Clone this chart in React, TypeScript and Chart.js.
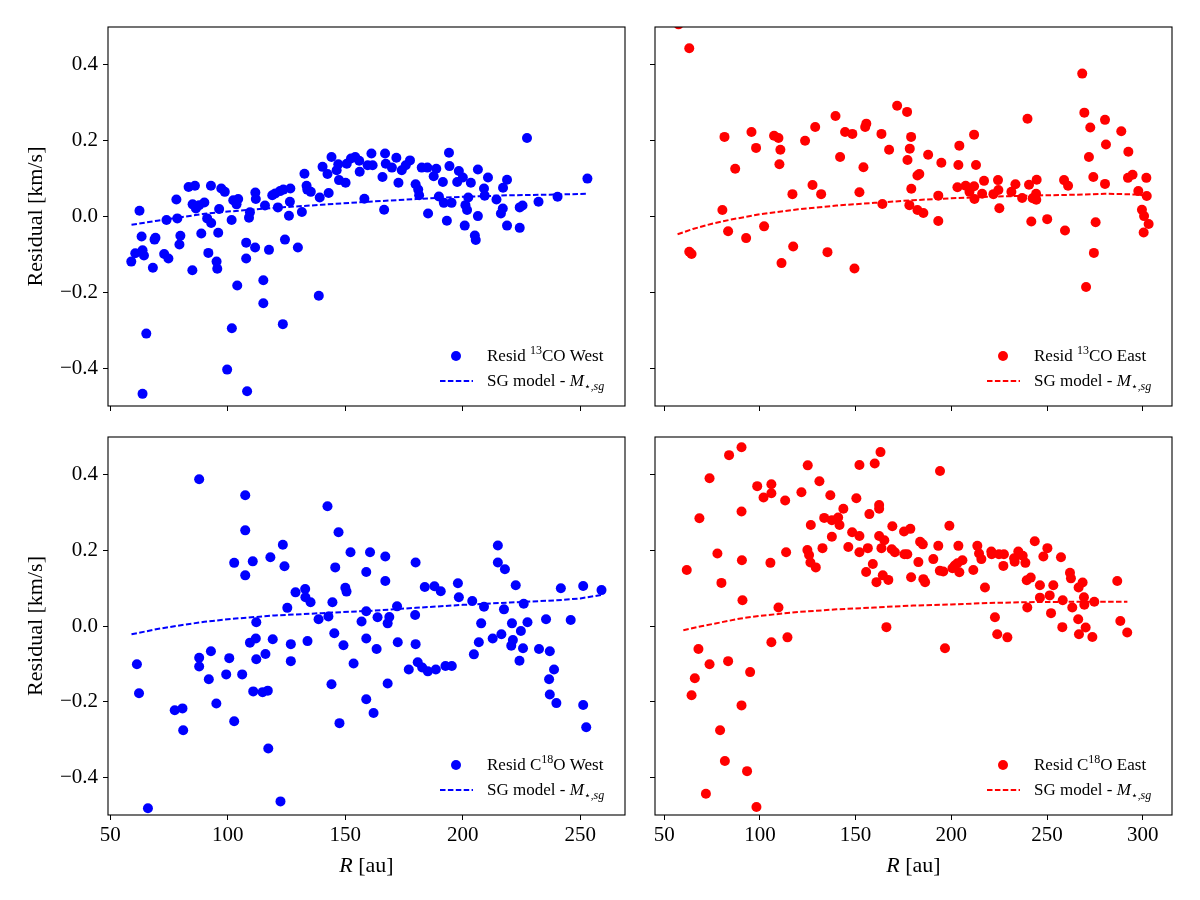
import React, { useEffect, useRef } from 'react';
import { Chart, registerables } from 'chart.js';

Chart.register(...registerables);

const FONT = "'Liberation Serif', 'DejaVu Serif', serif";

// ---------- axes ----------
const yTicks = [-0.4, -0.2, 0.0, 0.2, 0.4];
const yRange = [-0.5, 0.5];
const xTicksWest = [50, 100, 150, 200, 250];
const xTicksEast = [50, 100, 150, 200, 250, 300];
const xRangeWest = [49, 269];
const xRangeEast = [45.2, 315.3];

// ---------- 13CO West ----------
const co13WestR = [62.4, 58.9, 60.6, 63.7, 64.3, 63.3, 65.3, 63.7, 68.1, 68.8, 69.2, 73.9, 72.9, 74.7, 78.1, 78.5, 79.8, 79.4, 83.3, 86.0, 84.9, 85.0, 86.4, 87.8, 90.0, 88.7, 91.2, 92.9, 92.8, 91.7, 95.2, 95.5, 95.9, 96.3, 97.2, 98.7, 99.7, 101.6, 101.7, 102.3, 103.7, 104.4, 104.0, 107.8, 107.8, 108.2, 109.4, 109.0, 111.7, 111.9, 111.6, 115.1, 115.1, 115.8, 117.5, 118.9, 120.2, 121.3, 122.2, 123.6, 123.4, 124.3, 126.0, 126.4, 126.6, 129.8, 131.5, 132.6, 133.5, 133.8, 135.3, 138.7, 139.1, 140.3, 142.4, 142.9, 144.1, 146.3, 147.0, 147.3, 150.1, 150.6, 152.4, 154.2, 155.9, 156.1, 158.1, 159.5, 161.1, 161.6, 166.9, 167.2, 165.8, 166.5, 169.8, 171.7, 172.6, 174.0, 175.7, 177.5, 179.9, 181.0, 181.4, 182.5, 184.9, 185.2, 187.6, 188.7, 189.8, 191.5, 191.9, 193.2, 194.1, 194.3, 195.2, 197.6, 198.3, 200.0, 201.1, 200.8, 201.8, 202.3, 203.4, 205.1, 205.5, 206.4, 206.4, 209.0, 209.3, 210.7, 214.3, 216.2, 217.0, 217.1, 218.8, 218.8, 224.2, 225.4, 224.2, 227.3, 232.2, 240.3, 253.0];
const co13WestResid = [0.015, -0.119, -0.097, -0.089, -0.103, -0.053, -0.309, -0.468, -0.135, -0.061, -0.056, -0.009, -0.099, -0.111, 0.045, -0.005, -0.051, -0.074, 0.078, 0.081, -0.142, 0.032, 0.021, 0.030, 0.037, -0.045, -0.005, -0.017, 0.081, -0.096, -0.119, -0.138, -0.043, 0.020, 0.074, 0.065, -0.404, -0.009, -0.295, 0.043, 0.032, 0.046, -0.182, -0.069, -0.111, -0.461, 0.011, -0.003, 0.063, 0.046, -0.082, -0.168, -0.229, 0.029, -0.088, 0.056, 0.061, 0.024, 0.067, 0.071, -0.284, -0.061, 0.002, 0.039, 0.074, -0.082, 0.012, 0.113, 0.081, 0.071, 0.065, -0.209, 0.050, 0.131, 0.112, 0.062, 0.157, 0.122, 0.138, 0.096, 0.089, 0.139, 0.153, 0.157, 0.147, 0.118, 0.047, 0.135, 0.166, 0.135, 0.166, 0.139, 0.104, 0.018, 0.129, 0.155, 0.089, 0.122, 0.135, 0.148, 0.085, 0.071, 0.056, 0.129, 0.129, 0.008, 0.106, 0.126, 0.053, 0.091, 0.036, -0.011, 0.168, 0.133, 0.036, 0.091, 0.120, 0.103, 0.030, -0.024, 0.017, 0.050, 0.089, -0.050, -0.062, 0.001, 0.124, 0.074, 0.055, 0.103, 0.045, 0.008, 0.021, 0.076, 0.097, -0.024, 0.024, 0.029, -0.030, 0.207, 0.039, 0.052, 0.100];
const sgCo13WestR = [59, 70, 80, 90, 100, 120, 140, 160, 180, 200, 220, 240, 253];
const sgCo13WestV = [-0.022, -0.011, -0.002, 0.007, 0.013, 0.023, 0.031, 0.039, 0.046, 0.052, 0.056, 0.058, 0.060];

// ---------- 13CO East ----------
const co13EastR = [57.5, 63.1, 63.1, 64.3, 80.4, 81.5, 83.4, 87.1, 92.8, 95.6, 98.0, 102.2, 107.4, 109.7, 110.7, 110.2, 111.3, 117.0, 117.4, 123.6, 127.5, 128.9, 132.0, 135.3, 139.5, 141.9, 144.5, 148.3, 149.4, 152.0, 154.1, 155.0, 155.6, 163.5, 164.0, 167.5, 171.7, 176.9, 179.0, 178.3, 177.1, 179.1, 178.1, 182.3, 183.3, 182.3, 185.4, 187.9, 193.2, 193.2, 194.8, 203.2, 203.7, 204.2, 207.5, 209.5, 211.9, 212.1, 211.9, 212.9, 216.1, 217.1, 222.0, 224.4, 224.6, 225.1, 231.4, 233.5, 237.0, 239.8, 240.6, 241.8, 242.5, 244.3, 244.6, 244.4, 250.1, 258.9, 261.0, 259.4, 268.4, 269.5, 272.6, 271.9, 274.2, 275.4, 274.5, 270.4, 280.3, 280.8, 280.3, 288.8, 292.5, 292.3, 294.7, 297.7, 301.9, 302.1, 299.6, 300.7, 303.1, 300.5];
const co13EastResid = [0.507, 0.444, -0.093, -0.099, 0.017, 0.210, -0.039, 0.126, -0.057, 0.223, 0.181, -0.026, 0.213, 0.207, 0.176, 0.138, -0.123, 0.059, -0.079, 0.200, 0.083, 0.236, 0.059, -0.094, 0.265, 0.157, 0.223, 0.218, -0.137, 0.064, 0.130, 0.236, 0.245, 0.218, 0.033, 0.176, 0.292, 0.276, 0.210, 0.179, 0.149, 0.073, 0.030, 0.108, 0.112, 0.017, 0.009, 0.163, 0.055, -0.012, 0.142, 0.077, 0.136, 0.187, 0.081, 0.065, 0.080, 0.046, 0.216, 0.136, 0.060, 0.094, 0.059, 0.096, 0.070, 0.022, 0.065, 0.085, 0.049, 0.258, 0.084, -0.013, 0.048, 0.060, 0.097, 0.044, -0.007, 0.096, 0.081, -0.037, 0.377, 0.274, 0.235, 0.157, 0.104, -0.015, -0.096, -0.186, 0.255, 0.190, 0.086, 0.225, 0.171, 0.102, 0.110, 0.067, 0.102, 0.054, 0.018, 0.001, -0.020, -0.042];
const sgCo13EastR = [57, 65, 75, 85, 100, 120, 140, 160, 180, 200, 220, 240, 260, 270, 280, 290, 297, 303];
const sgCo13EastV = [-0.047, -0.033, -0.019, -0.008, 0.006, 0.019, 0.029, 0.036, 0.043, 0.048, 0.052, 0.055, 0.057, 0.058, 0.060, 0.059, 0.058, 0.054];

// ---------- C18O West ----------
const c18oWestR = [61.3, 62.2, 66.0, 77.4, 80.7, 81.0, 87.8, 87.8, 87.8, 92.8, 91.9, 95.1, 99.3, 100.6, 102.7, 102.7, 106.1, 107.4, 107.4, 107.4, 110.6, 112.1, 109.4, 111.9, 112.1, 110.8, 114.8, 117.0, 116.0, 117.2, 118.1, 119.1, 122.4, 123.4, 124.1, 125.3, 126.8, 126.8, 128.8, 132.9, 133.0, 135.2, 133.9, 138.6, 142.4, 142.8, 144.5, 145.3, 144.1, 147.1, 145.7, 147.5, 149.2, 150.0, 150.5, 152.2, 153.5, 156.9, 158.9, 158.9, 158.9, 158.9, 160.5, 162.0, 163.3, 163.7, 167.0, 167.0, 168.0, 168.7, 168.0, 172.0, 172.3, 177.0, 179.7, 179.9, 179.9, 180.8, 182.7, 185.1, 183.8, 187.9, 190.6, 188.5, 192.6, 195.3, 197.9, 198.3, 204.0, 204.7, 206.8, 207.8, 209.0, 212.7, 214.9, 214.9, 216.4, 217.9, 217.5, 220.6, 220.9, 221.3, 222.5, 224.7, 224.1, 225.6, 225.9, 227.5, 232.4, 235.4, 237.0, 238.8, 236.7, 237.0, 239.8, 241.7, 245.9, 251.2, 251.2, 252.5, 259.0];
const c18oWestResid = [-0.101, -0.178, -0.482, -0.223, -0.218, -0.276, 0.388, -0.084, -0.107, -0.067, -0.141, -0.205, -0.128, -0.085, 0.167, -0.252, -0.128, 0.346, 0.253, 0.134, 0.171, 0.010, -0.044, -0.033, -0.088, -0.173, -0.175, -0.171, -0.074, -0.324, 0.182, -0.035, -0.464, 0.215, 0.158, 0.048, -0.048, -0.093, 0.089, 0.098, 0.076, 0.063, -0.040, 0.018, 0.317, 0.025, 0.063, -0.019, -0.154, 0.248, 0.155, -0.257, -0.051, 0.101, 0.091, 0.195, -0.099, 0.012, 0.039, -0.033, 0.143, -0.194, 0.195, -0.230, -0.061, 0.023, 0.184, 0.119, 0.007, 0.024, -0.152, 0.052, -0.043, -0.115, 0.029, 0.168, -0.048, -0.096, -0.110, -0.120, 0.103, 0.105, 0.092, -0.115, -0.106, -0.106, 0.113, 0.076, 0.066, -0.075, -0.043, 0.007, 0.051, -0.033, 0.213, 0.168, -0.022, 0.150, 0.044, -0.052, 0.007, -0.037, 0.108, -0.013, -0.092, -0.059, 0.059, 0.010, -0.061, 0.018, -0.067, -0.115, -0.141, -0.181, -0.204, 0.100, 0.016, 0.106, -0.209, -0.268, 0.095];
const sgC18oWestR = [59, 70, 80, 90, 100, 120, 140, 160, 180, 200, 220, 240, 250, 259];
const sgC18oWestV = [-0.022, -0.008, 0.002, 0.011, 0.018, 0.028, 0.034, 0.040, 0.048, 0.056, 0.062, 0.068, 0.073, 0.082];

// ---------- C18O East ----------
const c18oEastR = [61.8, 64.3, 66.0, 67.9, 68.4, 71.8, 73.7, 73.7, 77.8, 79.2, 79.9, 81.7, 83.4, 83.9, 90.4, 90.4, 90.6, 90.9, 90.4, 93.3, 94.9, 98.2, 98.6, 101.9, 106.0, 106.0, 105.5, 106.0, 109.7, 113.2, 113.7, 114.4, 121.7, 125.0, 124.8, 125.7, 126.4, 129.2, 126.6, 131.1, 132.7, 133.6, 136.8, 137.6, 137.6, 140.9, 141.6, 143.6, 146.2, 148.2, 150.4, 152.0, 152.0, 152.0, 155.5, 156.4, 157.2, 159.0, 160.0, 163.0, 162.3, 162.3, 162.3, 163.5, 165.0, 164.2, 160.9, 167.1, 166.1, 169.2, 168.9, 170.5, 175.3, 175.5, 177.0, 178.6, 179.0, 182.8, 183.7, 185.1, 185.4, 186.3, 190.6, 193.2, 194.1, 194.0, 195.8, 196.7, 199.0, 200.6, 201.8, 203.2, 203.7, 204.2, 205.8, 211.5, 213.6, 214.5, 215.7, 217.6, 220.9, 221.1, 222.8, 224.0, 227.5, 227.2, 229.3, 224.9, 232.8, 233.1, 235.0, 237.3, 238.7, 239.4, 241.5, 239.7, 243.6, 248.1, 250.2, 246.3, 246.3, 251.4, 253.3, 252.1, 257.3, 258.2, 258.0, 262.0, 262.5, 263.2, 266.3, 266.5, 268.6, 269.3, 269.5, 270.2, 266.7, 273.7, 274.7, 286.7, 288.3, 291.9];
const c18oEastResid = [0.148, -0.183, -0.138, -0.061, 0.285, -0.444, 0.391, -0.101, 0.192, -0.276, 0.114, -0.357, -0.093, 0.452, 0.473, 0.303, 0.174, 0.068, -0.210, -0.384, -0.122, -0.479, 0.370, 0.340, 0.375, 0.351, 0.167, -0.043, 0.049, 0.332, 0.195, -0.030, 0.354, 0.425, 0.201, 0.188, 0.168, 0.155, 0.267, 0.383, 0.206, 0.286, 0.346, 0.280, 0.236, 0.287, 0.267, 0.310, 0.209, 0.248, 0.338, 0.426, 0.238, 0.195, 0.143, 0.206, 0.296, 0.164, 0.430, 0.460, 0.320, 0.310, 0.238, 0.206, 0.227, 0.134, 0.116, 0.122, -0.003, 0.264, 0.203, 0.195, 0.250, 0.190, 0.190, 0.257, 0.129, 0.169, 0.223, 0.216, 0.124, 0.116, 0.177, 0.212, 0.410, 0.146, 0.144, -0.059, 0.265, 0.153, 0.160, 0.166, 0.212, 0.142, 0.174, 0.148, 0.212, 0.192, 0.177, 0.102, 0.197, 0.190, 0.023, -0.022, 0.190, 0.159, -0.030, 0.190, 0.179, 0.170, 0.197, 0.186, 0.167, 0.121, 0.128, 0.049, 0.224, 0.184, 0.206, 0.108, 0.075, 0.081, 0.108, 0.034, 0.182, 0.068, -0.003, 0.141, 0.126, 0.049, 0.018, 0.102, 0.115, 0.076, 0.056, -0.004, -0.022, -0.029, 0.064, 0.119, 0.013, -0.017];
const sgC18oEastR = [60, 70, 80, 90, 100, 120, 140, 160, 180, 200, 220, 240, 260, 280, 292];
const sgC18oEastV = [-0.011, 0.000, 0.010, 0.020, 0.027, 0.037, 0.044, 0.049, 0.054, 0.057, 0.061, 0.063, 0.064, 0.064, 0.064];

// ---------- text helpers ----------
type Seg = { t: string; size: number; italic?: boolean; dy?: number };

function segFont(s: Seg) {
  return `${s.italic ? 'italic ' : ''}${s.size}px ${FONT}`;
}

function drawRich(ctx: CanvasRenderingContext2D, x: number, y: number, segs: Seg[], align: 'left' | 'center') {
  let w = 0;
  for (const s of segs) {
    ctx.font = segFont(s);
    w += ctx.measureText(s.t).width;
  }
  let cx = align === 'center' ? x - w / 2 : x;
  ctx.textAlign = 'left';
  ctx.textBaseline = 'alphabetic';
  for (const s of segs) {
    ctx.font = segFont(s);
    ctx.fillText(s.t, cx, y + (s.dy || 0));
    cx += ctx.measureText(s.t).width;
  }
}

type Panel = {
  key: string;
  left: number;
  top: number;
  width: number;
  height: number;
  area: { l: number; t: number; r: number; b: number };
  color: string;
  R: number[];
  resid: number[];
  modelR: number[];
  modelV: number[];
  xTicks: number[];
  xRange: number[];
  showX: boolean;
  showY: boolean;
  iso: [string, string, string];
  side: string;
};

const panels: Panel[] = [
  {
    key: 'tl', left: 0, top: 0, width: 640, height: 420,
    area: { l: 108, t: 27, r: 625, b: 406 }, color: '#0000ff',
    R: co13WestR, resid: co13WestResid, modelR: sgCo13WestR, modelV: sgCo13WestV,
    xTicks: xTicksWest, xRange: xRangeWest, showX: false, showY: true,
    iso: ['', '13', 'CO'], side: 'West',
  },
  {
    key: 'tr', left: 640, top: 0, width: 560, height: 420,
    area: { l: 15, t: 27, r: 532, b: 406 }, color: '#ff0000',
    R: co13EastR, resid: co13EastResid, modelR: sgCo13EastR, modelV: sgCo13EastV,
    xTicks: xTicksEast, xRange: xRangeEast, showX: false, showY: false,
    iso: ['', '13', 'CO'], side: 'East',
  },
  {
    key: 'bl', left: 0, top: 420, width: 640, height: 480,
    area: { l: 108, t: 17, r: 625, b: 395 }, color: '#0000ff',
    R: c18oWestR, resid: c18oWestResid, modelR: sgC18oWestR, modelV: sgC18oWestV,
    xTicks: xTicksWest, xRange: xRangeWest, showX: true, showY: true,
    iso: ['C', '18', 'O'], side: 'West',
  },
  {
    key: 'br', left: 640, top: 420, width: 560, height: 480,
    area: { l: 15, t: 17, r: 532, b: 395 }, color: '#ff0000',
    R: c18oEastR, resid: c18oEastResid, modelR: sgC18oEastR, modelV: sgC18oEastV,
    xTicks: xTicksEast, xRange: xRangeEast, showX: true, showY: false,
    iso: ['C', '18', 'O'], side: 'East',
  },
];

function fmtY(v: number) {
  const s = Math.abs(v) < 1e-9 ? '0.0' : v.toFixed(1);
  return s.replace('-', '\u2212');
}

function PanelChart({ p }: { p: Panel }) {
  const ref = useRef<HTMLCanvasElement | null>(null);
  useEffect(() => {
    if (!ref.current) return;
    const points = p.R.map((r, i) => ({ x: r, y: p.resid[i] }));
    const model = p.modelR.map((r, i) => ({ x: r, y: p.modelV[i] }));

    const decor = {
      id: 'decor' + p.key,
      afterDraw(chart: any) {
        const ctx: CanvasRenderingContext2D = chart.ctx;
        const a = chart.chartArea;
        ctx.save();
        // frame
        ctx.strokeStyle = '#000';
        ctx.lineWidth = 1.1;
        ctx.strokeRect(a.left, a.top, a.right - a.left, a.bottom - a.top);

        // legend
        const tx = a.right - 138;
        const y1 = a.bottom - 50;
        const y2 = a.bottom - 25;
        ctx.fillStyle = p.color;
        ctx.beginPath();
        ctx.arc(tx - 31, y1, 5, 0, Math.PI * 2);
        ctx.fill();
        ctx.strokeStyle = p.color;
        ctx.lineWidth = 2;
        ctx.setLineDash([5.5, 2.4]);
        ctx.beginPath();
        ctx.moveTo(tx - 47, y2);
        ctx.lineTo(tx - 14, y2);
        ctx.stroke();
        ctx.setLineDash([]);
        ctx.fillStyle = '#000';
        const row1: Seg[] = [
          { t: 'Resid ' + p.iso[0], size: 17 },
          { t: p.iso[1], size: 12, dy: -7 },
          { t: p.iso[2] + ' ' + p.side, size: 17 },
        ];
        const row2: Seg[] = [
          { t: 'SG model - ', size: 17 },
          { t: 'M', size: 17, italic: true },
          { t: '\u22c6,', size: 11, dy: 4 },
          { t: 'sg', size: 12, italic: true, dy: 4 },
        ];
        drawRich(ctx, tx, y1 + 5, row1, 'left');
        drawRich(ctx, tx, y2 + 5, row2, 'left');

        // axis titles
        if (p.showY) {
          ctx.save();
          ctx.translate(42, (a.top + a.bottom) / 2);
          ctx.rotate(-Math.PI / 2);
          drawRich(ctx, 0, 0, [{ t: 'Residual [km/s]', size: 22 }], 'center');
          ctx.restore();
        }
        if (p.showX) {
          drawRich(ctx, (a.left + a.right) / 2, a.bottom + 57, [
            { t: 'R', size: 22, italic: true },
            { t: ' [au]', size: 22 },
          ], 'center');
        }
        ctx.restore();
      },
    };

    const chart = new Chart(ref.current, {
      type: 'scatter',
      data: {
        datasets: [
          {
            label: 'SG model',
            data: model,
            showLine: true,
            borderColor: p.color,
            backgroundColor: p.color,
            borderWidth: 2,
            borderDash: [5.5, 2.4],
            pointRadius: 0,
            pointHoverRadius: 0,
            fill: false,
            tension: 0,
            clip: 0,
          } as any,
          {
            label: 'Resid',
            data: points,
            backgroundColor: p.color,
            borderColor: p.color,
            borderWidth: 0,
            pointRadius: 5,
            pointHoverRadius: 5,
            clip: 0,
          } as any,
        ],
      },
      options: {
        responsive: false,
        maintainAspectRatio: false,
        animation: false,
        events: [],
        layout: {
          padding: { left: 0, top: p.area.t, right: p.width - p.area.r, bottom: 0 },
        },
        plugins: {
          legend: { display: false },
          tooltip: { enabled: false },
        },
        scales: {
          x: {
            type: 'linear',
            min: p.xRange[0],
            max: p.xRange[1],
            afterBuildTicks: (s: any) => {
              s.ticks = p.xTicks.map((v) => ({ value: v }));
            },
            afterFit: (s: any) => {
              s.height = p.height - p.area.b;
              s.paddingLeft = 0;
              s.paddingRight = 0;
              s.paddingTop = 0;
              s.paddingBottom = 0;
            },
            grid: {
              display: true,
              drawOnChartArea: false,
              drawTicks: true,
              tickLength: 5,
              color: '#000',
              lineWidth: 1,
            },
            border: { display: false },
            ticks: {
              autoSkip: false,
              maxRotation: 0,
              padding: 3,
              color: '#000',
              font: { family: FONT, size: 21 },
              callback: (v: any) => (p.showX ? String(v) : ''),
            },
          },
          y: {
            type: 'linear',
            min: yRange[0],
            max: yRange[1],
            afterBuildTicks: (s: any) => {
              s.ticks = yTicks.map((v) => ({ value: v }));
            },
            afterFit: (s: any) => {
              s.width = p.area.l;
              s.paddingLeft = 0;
              s.paddingRight = 0;
              s.paddingTop = 0;
              s.paddingBottom = 0;
            },
            grid: {
              display: true,
              drawOnChartArea: false,
              drawTicks: true,
              tickLength: 5,
              color: '#000',
              lineWidth: 1,
            },
            border: { display: false },
            ticks: {
              autoSkip: false,
              padding: 5,
              color: '#000',
              font: { family: FONT, size: 21 },
              callback: (v: any) => (p.showY ? fmtY(Number(v)) : ''),
            },
          },
        },
      } as any,
      plugins: [decor],
    });
    return () => chart.destroy();
  }, [p]);

  return (
    <canvas
      ref={ref}
      width={p.width}
      height={p.height}
      style={{ position: 'absolute', left: p.left, top: p.top, width: p.width, height: p.height }}
    />
  );
}

export default function App() {
  return (
    <div style={{ position: 'absolute', left: 0, top: 0, width: 1200, height: 900, background: '#fff' }}>
      {panels.map((p) => (
        <PanelChart key={p.key} p={p} />
      ))}
    </div>
  );
}
